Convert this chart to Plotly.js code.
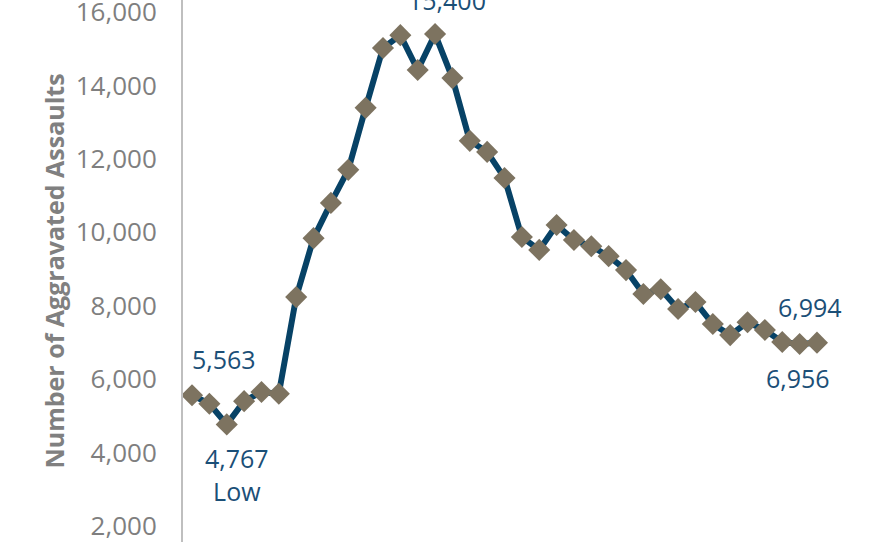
<!DOCTYPE html>
<html><head><meta charset="utf-8">
<script src="https://cdn.plot.ly/plotly-3.0.1.min.js"></script>
<style>html,body{margin:0;padding:0;background:#fff}#chart{width:880px;height:542px}</style>
</head><body><div id="chart"></div>
<script>
const periods = Array.from({length: 37}, (_, i) => i);
const assaults = [5563, 5330, 4767, 5400, 5650, 5600, 8235, 9840, 10800, 11700, 13390, 15020, 15370, 14420, 15400, 14200,
  12490, 12190, 11480, 9870, 9520, 10200, 9790, 9620, 9350, 8970, 8320, 8450, 7910, 8100, 7500, 7200, 7550, 7340, 7010, 6956, 6994];
const yTicks = [2000, 4000, 6000, 8000, 10000, 12000, 14000, 16000];
const labelled = [
  {i: 0, extra: '', xs: 32, ys: 36},
  {i: 2, extra: '<br>Low', xs: 10, ys: -50},
  {i: 14, extra: '', xs: 12, ys: 34},
  {i: 35, extra: '', xs: -2, ys: -34},
  {i: 36, extra: '', xs: -7, ys: 36}
];
const fmt = v => v.toLocaleString('en-US');
const annotations = labelled.map(l => ({
  x: periods[l.i], y: assaults[l.i], xref: 'x', yref: 'y',
  text: fmt(assaults[l.i]) + l.extra, showarrow: false,
  xshift: l.xs, yshift: l.ys,
  font: {family: 'Open Sans', size: 25, color: '#1b4f77'}
}));
Plotly.newPlot('chart', [{
  x: periods, y: assaults, type: 'scatter', mode: 'lines+markers',
  line: {color: '#074266', width: 6},
  marker: {symbol: 'diamond', size: 17, color: '#7d7360'},
  cliponaxis: false, hoverinfo: 'none'
}], {
  width: 880, height: 542,
  margin: {l: 183, r: 0, t: 0, b: 0},
  paper_bgcolor: '#fff', plot_bgcolor: '#fff',
  showlegend: false,
  xaxis: {range: [-0.52, 39.63], visible: false, showgrid: false, zeroline: false},
  yaxis: {
    range: [1564, 16327], tickvals: yTicks, ticktext: yTicks.map(fmt),
    showgrid: false, zeroline: false, showline: true, linecolor: '#bfbfbf', linewidth: 2,
    ticks: '', ticklabelstandoff: 19, ticklabeloverflow: 'allow',
    tickfont: {family: 'Open Sans', size: 26, color: '#7f7f7f'},
    title: {text: 'Number of Aggravated Assaults', standoff: 4,
      font: {family: 'Open Sans', size: 25, color: '#808080', weight: 'bold'}},
    automargin: false
  },
  annotations: annotations
}, {staticPlot: true});
</script></body></html>
